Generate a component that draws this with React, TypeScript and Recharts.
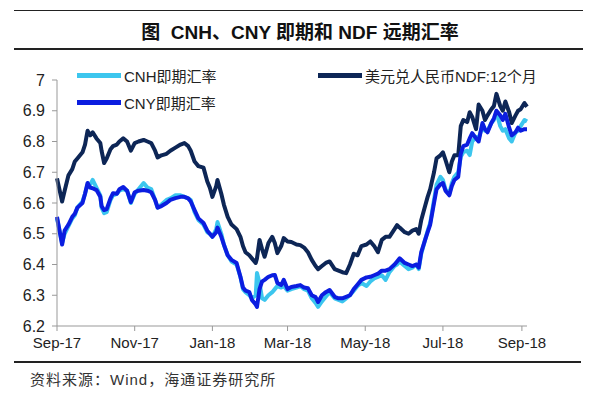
import React from 'react';
import { LineChart, Line, XAxis, YAxis } from 'recharts';

const dates = [
  '2017-09-01', '2017-09-05', '2017-09-07', '2017-09-10', '2017-09-13', '2017-09-15', '2017-09-17', '2017-09-21',
  '2017-09-23', '2017-09-25', '2017-09-27', '2017-09-29', '2017-10-02', '2017-10-05', '2017-10-06', '2017-10-08',
  '2017-10-10', '2017-10-13', '2017-10-15', '2017-10-18', '2017-10-20', '2017-10-23', '2017-10-26', '2017-10-29',
  '2017-11-01', '2017-11-04', '2017-11-08', '2017-11-11', '2017-11-14', '2017-11-17', '2017-11-19', '2017-11-22',
  '2017-11-26', '2017-11-29', '2017-12-03', '2017-12-07', '2017-12-10', '2017-12-13', '2017-12-15', '2017-12-18',
  '2017-12-21', '2017-12-25', '2017-12-28', '2017-12-30', '2018-01-01', '2018-01-04', '2018-01-05', '2018-01-08',
  '2018-01-10', '2018-01-13', '2018-01-16', '2018-01-20', '2018-01-23', '2018-01-25', '2018-01-27', '2018-01-30',
  '2018-02-01', '2018-02-04', '2018-02-05', '2018-02-07', '2018-02-09', '2018-02-11', '2018-02-14', '2018-02-17',
  '2018-02-19', '2018-02-21', '2018-02-24', '2018-02-26', '2018-03-01', '2018-03-04', '2018-03-08', '2018-03-11',
  '2018-03-14', '2018-03-17', '2018-03-20', '2018-03-23', '2018-03-25', '2018-03-28', '2018-03-31', '2018-04-03',
  '2018-04-07', '2018-04-10', '2018-04-13', '2018-04-16', '2018-04-19', '2018-04-22', '2018-04-25', '2018-04-28',
  '2018-05-02', '2018-05-05', '2018-05-08', '2018-05-11', '2018-05-14', '2018-05-17', '2018-05-20', '2018-05-24',
  '2018-05-26', '2018-05-28', '2018-06-01', '2018-06-04', '2018-06-07', '2018-06-10', '2018-06-12', '2018-06-14',
  '2018-06-17', '2018-06-19', '2018-06-21', '2018-06-24', '2018-06-26', '2018-06-29', '2018-07-01', '2018-07-03',
  '2018-07-06', '2018-07-08', '2018-07-10', '2018-07-13', '2018-07-15', '2018-07-17', '2018-07-20', '2018-07-22',
  '2018-07-24', '2018-07-27', '2018-07-29', '2018-08-01', '2018-08-03', '2018-08-05', '2018-08-08', '2018-08-10',
  '2018-08-12', '2018-08-15', '2018-08-17', '2018-08-19', '2018-08-22', '2018-08-24', '2018-08-27', '2018-08-29',
  '2018-08-31', '2018-09-03', '2018-09-05',
];

const ndf = [
  6.68, 6.605, 6.64, 6.69, 6.71, 6.735, 6.745, 6.765,
  6.79, 6.835, 6.82, 6.83, 6.81, 6.795, 6.77, 6.73,
  6.745, 6.775, 6.785, 6.79, 6.8, 6.81, 6.8, 6.77,
  6.795, 6.8, 6.805, 6.8, 6.795, 6.77, 6.748, 6.755,
  6.76, 6.77, 6.78, 6.79, 6.795, 6.785, 6.77, 6.735,
  6.72, 6.715, 6.67, 6.65, 6.62, 6.655, 6.675, 6.63,
  6.595, 6.555, 6.53, 6.515, 6.49, 6.46, 6.44, 6.43,
  6.42, 6.405, 6.42, 6.48, 6.45, 6.425, 6.47, 6.49,
  6.47, 6.437, 6.46, 6.486, 6.475, 6.473, 6.465, 6.463,
  6.455, 6.44, 6.415, 6.395, 6.385, 6.395, 6.405, 6.41,
  6.385, 6.38, 6.375, 6.372, 6.4, 6.435, 6.43, 6.46,
  6.465, 6.475, 6.46, 6.44, 6.48, 6.49, 6.49, 6.515,
  6.528, 6.52, 6.505, 6.5, 6.51, 6.515, 6.5, 6.545,
  6.59, 6.62, 6.645, 6.7, 6.745, 6.755, 6.765, 6.74,
  6.7, 6.735, 6.755, 6.755, 6.85, 6.87, 6.863, 6.895,
  6.88, 6.84, 6.92, 6.9, 6.87, 6.885, 6.905, 6.915,
  6.955, 6.915, 6.9, 6.93, 6.895, 6.86, 6.885, 6.9,
  6.905, 6.925, 6.913,
];

const cny = [
  6.555, 6.465, 6.51, 6.53, 6.555, 6.565, 6.585, 6.6,
  6.63, 6.665, 6.65, 6.648, 6.642, 6.62, 6.59, 6.577,
  6.58, 6.615, 6.632, 6.63, 6.645, 6.652, 6.64, 6.603,
  6.635, 6.64, 6.642, 6.64, 6.635, 6.61, 6.585, 6.59,
  6.6, 6.61, 6.616, 6.62, 6.62, 6.615, 6.605, 6.577,
  6.55, 6.535, 6.51, 6.5, 6.49, 6.505, 6.52, 6.49,
  6.465, 6.43, 6.415, 6.405, 6.36, 6.325, 6.315, 6.31,
  6.285, 6.27, 6.262, 6.32, 6.345, 6.35, 6.36, 6.365,
  6.366, 6.34, 6.333, 6.35, 6.32, 6.327, 6.33, 6.333,
  6.325, 6.323, 6.3, 6.294, 6.278, 6.3, 6.31, 6.317,
  6.295, 6.29, 6.29, 6.295, 6.3, 6.32, 6.335, 6.35,
  6.358, 6.36, 6.365, 6.37, 6.38, 6.38, 6.385, 6.4,
  6.41, 6.42, 6.405, 6.4, 6.395, 6.4, 6.39, 6.44,
  6.48, 6.505, 6.53, 6.6, 6.645, 6.66, 6.665, 6.64,
  6.625, 6.655, 6.675, 6.685, 6.76, 6.785, 6.79, 6.81,
  6.827, 6.81, 6.8, 6.86, 6.84, 6.83, 6.86, 6.875,
  6.9, 6.885, 6.87, 6.89, 6.845, 6.82, 6.83, 6.845,
  6.835, 6.84, 6.84,
];

const cnh = [
  6.55, 6.47, 6.5, 6.525, 6.55, 6.56, 6.585, 6.605,
  6.63, 6.66, 6.66, 6.675, 6.65, 6.625, 6.585, 6.567,
  6.57, 6.61, 6.625, 6.63, 6.64, 6.645, 6.64, 6.6,
  6.63, 6.645, 6.665, 6.65, 6.645, 6.61, 6.585, 6.595,
  6.61, 6.615, 6.625, 6.625, 6.62, 6.615, 6.61, 6.57,
  6.545, 6.53, 6.505, 6.5, 6.49, 6.515, 6.538, 6.5,
  6.465, 6.43, 6.41, 6.4, 6.36, 6.32, 6.31, 6.3,
  6.29, 6.3, 6.372, 6.34, 6.29, 6.285, 6.3, 6.31,
  6.32, 6.33, 6.325, 6.33, 6.315, 6.32, 6.325, 6.33,
  6.32, 6.315, 6.29, 6.275, 6.262, 6.28, 6.295, 6.31,
  6.29, 6.285, 6.28, 6.29, 6.3, 6.315, 6.33, 6.34,
  6.33, 6.345, 6.355, 6.36, 6.365, 6.35, 6.375, 6.395,
  6.4, 6.41, 6.395, 6.385, 6.39, 6.4, 6.385, 6.435,
  6.48, 6.51, 6.535, 6.61, 6.66, 6.685, 6.675, 6.645,
  6.63, 6.665, 6.685, 6.7, 6.75, 6.765, 6.77, 6.756,
  6.8, 6.815, 6.81, 6.85, 6.835, 6.835, 6.86, 6.87,
  6.895, 6.85, 6.835, 6.84, 6.81, 6.8, 6.83, 6.835,
  6.85, 6.87, 6.865,
];

const tickDates = ['2017-09-01', '2017-11-01', '2018-01-01', '2018-03-01', '2018-05-01', '2018-07-01', '2018-09-01'];
const tickLabels = ['Sep-17', 'Nov-17', 'Jan-18', 'Mar-18', 'May-18', 'Jul-18', 'Sep-18'];
const yTicks = [6.2, 6.3, 6.4, 6.5, 6.6, 6.7, 6.8, 6.9, 7];

const toTime = (d: string) => Date.parse(d + 'T00:00:00Z');

const data = dates.map((d, i) => ({
  t: toTime(d),
  cnh: cnh[i],
  cny: cny[i],
  ndf: ndf[i],
}));

const xTicks = tickDates.map(toTime);

const COLORS = {
  cnh: '#3cc6ee',
  cny: '#0b1de0',
  ndf: '#0d2656',
};

const FONT = '"Liberation Sans", Arial, "Noto Sans CJK SC", sans-serif';

// legend drawn over the plot, like the original
const LegendItem = ({ color, label, left, top }: { color: string; label: string; left: number; top: number }) => (
  <div style={{ position: 'absolute', left, top, height: 20, display: 'flex', alignItems: 'center', whiteSpace: 'nowrap' }}>
    <div style={{ width: 44, height: 5, background: color, marginRight: 3 }} />
    <span style={{ fontSize: 15, color: '#222', fontFamily: FONT }}>{label}</span>
  </div>
);

export default function App() {
  return (
    <div style={{ position: 'absolute', left: 0, top: 0, width: 600, height: 394, background: '#fff', overflow: 'hidden' }}>
      <div style={{ position: 'absolute', left: 14, top: 10, width: 569, height: 0, borderTop: '1.5px solid #222' }} />
      <div
        style={{
          position: 'absolute',
          left: 0,
          top: 17,
          width: 600,
          textAlign: 'center',
          fontFamily: FONT,
          fontWeight: 'bold',
          fontSize: 19,
          color: '#111',
        }}
      >
        图&nbsp;&nbsp;CNH、CNY 即期和 NDF 远期汇率
      </div>
      <div style={{ position: 'absolute', left: 14, top: 48, width: 569, height: 0, borderTop: '2px solid #222' }} />

      <LineChart
        width={600}
        height={394}
        data={data}
        margin={{ top: 80, right: 73, bottom: 38, left: 0 }}
        style={{ position: 'absolute', left: 0, top: 0 }}
      >
        <XAxis
          dataKey="t"
          type="number"
          scale="time"
          domain={[toTime('2017-09-01'), toTime('2018-09-05')]}
          ticks={xTicks}
          tickFormatter={(v: number) => tickLabels[xTicks.indexOf(v)] ?? ''}
          stroke="#999"
          tick={{ fill: '#222', fontSize: 15, fontFamily: FONT }}
          tickSize={5}
          tickMargin={6}
          height={30}
          interval={0}
        />
        <YAxis
          type="number"
          domain={[6.2, 7]}
          ticks={yTicks}
          tickFormatter={(v: number) => (v === 7 ? '7' : v.toFixed(1))}
          stroke="#999"
          tick={{ fill: '#222', fontSize: 16, fontFamily: FONT }}
          tickSize={5}
          tickMargin={7}
          width={57}
          interval={0}
          allowDataOverflow
        />
        <Line type="linear" dataKey="ndf" stroke={COLORS.ndf} strokeWidth={4} dot={false} isAnimationActive={false} strokeLinejoin="round" />
        <Line type="linear" dataKey="cnh" stroke={COLORS.cnh} strokeWidth={4} dot={false} isAnimationActive={false} strokeLinejoin="round" />
        <Line type="linear" dataKey="cny" stroke={COLORS.cny} strokeWidth={4} dot={false} isAnimationActive={false} strokeLinejoin="round" />
      </LineChart>

      <LegendItem color={COLORS.cnh} label="CNH即期汇率" left={77} top={65} />
      <LegendItem color={COLORS.cny} label="CNY即期汇率" left={77} top={92} />
      <LegendItem color={COLORS.ndf} label="美元兑人民币NDF:12个月" left={318} top={65} />

      <div style={{ position: 'absolute', left: 14, top: 361, width: 567, height: 0, borderTop: '2px solid #222' }} />
      <div
        style={{
          position: 'absolute',
          left: 30,
          top: 368,
          fontSize: 15,
          letterSpacing: 1,
          color: '#333',
          fontFamily: FONT,
          whiteSpace: 'nowrap',
        }}
      >
        资料来源：Wind，海通证券研究所
      </div>
    </div>
  );
}
